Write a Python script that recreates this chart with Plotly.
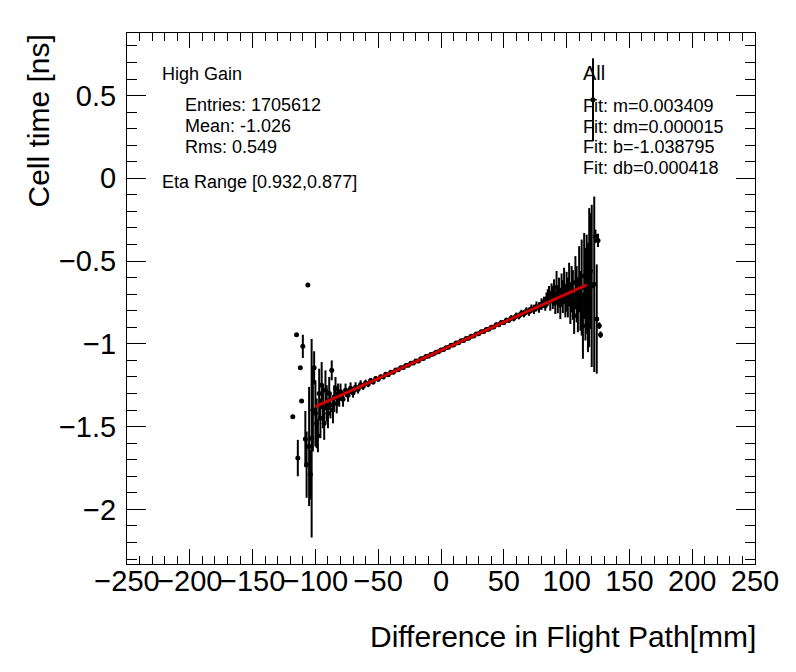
import numpy as np
import plotly.graph_objects as go

# profile bins: x centre [mm], mean cell time [ns], error on mean [ns]
bin_x = [
    -118, -115, -114, -112, -111, -110, -108, -107, -106, -105,
    -104, -103, -102, -101, -100, -99, -98,
    -97, -96, -95, -94, -93, -92, -91, -90, -89, -88,
    -87, -86, -85, -84, -83, -82, -81,
    -80, -78, -76, -74, -72, -70, -68, -66, -64, -62,
    -60, -58, -56, -54, -52, -50, -48, -46, -44, -42,
    -40, -38, -36, -34, -32, -30, -28, -26, -24, -22,
    -20, -18, -16, -14, -12, -10, -8, -6, -4, -2,
    0, 2, 4, 6, 8, 10, 12, 14, 16, 18,
    20, 22, 24, 26, 28, 30, 32, 34, 36, 38,
    40, 42, 44, 46, 48, 50, 52, 54, 56, 58,
    60, 62, 64, 66, 68, 70, 72, 74, 76, 78, 80,
    81, 82, 83, 84, 85, 86, 87, 88, 89, 90,
    91, 92, 93, 94, 95, 96, 97, 98, 99, 100,
    101, 102, 103, 104, 105, 106, 107, 108, 109, 110,
    111, 112, 113, 114, 115, 116, 117, 118, 119, 120,
    121, 122, 123, 124, 125, 126, 127,
]
bin_mean = [
    -1.440, -0.945, -1.690, -1.145, -1.345, -1.015, -1.575, -1.730, -0.645, -1.620,
    -1.790, -1.570, -1.400, -1.145, -1.420, -1.480, -1.555,
    -1.300, -1.450, -1.250, -1.380, -1.480, -1.280, -1.360, -1.420, -1.300, -1.370,
    -1.160, -1.400, -1.320, -1.270, -1.360, -1.300, -1.330,
    -1.290, -1.335, -1.280, -1.310, -1.268, -1.295, -1.262, -1.275, -1.245, -1.258,
    -1.236, -1.244, -1.222, -1.230, -1.210, -1.214, -1.198, -1.200, -1.184, -1.186,
    -1.171, -1.172, -1.158, -1.157, -1.145, -1.143, -1.131, -1.130, -1.117, -1.116,
    -1.104, -1.103, -1.090, -1.089, -1.077, -1.075, -1.064, -1.061, -1.050, -1.047,
    -1.037, -1.034, -1.023, -1.020, -1.009, -1.007, -0.995, -0.994, -0.981, -0.980,
    -0.968, -0.966, -0.954, -0.953, -0.940, -0.939, -0.927, -0.925, -0.913, -0.912,
    -0.899, -0.898, -0.885, -0.885, -0.871, -0.872, -0.857, -0.858, -0.844, -0.846,
    -0.830, -0.832, -0.815, -0.818, -0.802, -0.806, -0.788, -0.792, -0.774, -0.780, -0.760,
    -0.760, -0.745, -0.770, -0.730, -0.720, -0.700, -0.740, -0.695, -0.720, -0.690,
    -0.750, -0.660, -0.735, -0.690, -0.760, -0.675, -0.715, -0.650, -0.740, -0.685,
    -0.720, -0.640, -0.760, -0.670, -0.705, -0.830, -0.630, -0.700, -0.770, -0.610,
    -0.740, -0.660, -0.890, -0.590, -0.700, -0.640, -0.720, -0.600, -0.560, -0.650,
    0.475, -0.640, -0.350, -0.850, -0.375, -0.890, -0.945,
]
bin_err = [
    0.005, 0.005, 0.110, 0.005, 0.005, 0.070, 0.170, 0.200, 0.005, 0.360,
    0.150, 0.600, 0.250, 0.100, 0.200, 0.150, 0.100,
    0.150, 0.120, 0.140, 0.130, 0.100, 0.120, 0.110, 0.090, 0.100, 0.080,
    0.060, 0.080, 0.070, 0.070, 0.060, 0.060, 0.050,
    0.050, 0.045, 0.040, 0.040, 0.035, 0.030, 0.030, 0.025, 0.025, 0.020,
    0.020, 0.018, 0.016, 0.015, 0.014, 0.013, 0.012, 0.011, 0.011, 0.010,
    0.010, 0.009, 0.009, 0.009, 0.008, 0.008, 0.008, 0.008, 0.007, 0.007,
    0.007, 0.007, 0.007, 0.007, 0.007, 0.007, 0.007, 0.007, 0.007, 0.007,
    0.007, 0.007, 0.007, 0.007, 0.007, 0.007, 0.007, 0.008, 0.008, 0.008,
    0.008, 0.008, 0.009, 0.009, 0.009, 0.010, 0.010, 0.010, 0.011, 0.011,
    0.012, 0.012, 0.013, 0.013, 0.014, 0.014, 0.015, 0.016, 0.017, 0.018,
    0.019, 0.020, 0.021, 0.022, 0.023, 0.025, 0.026, 0.028, 0.030, 0.032, 0.035,
    0.025, 0.030, 0.030, 0.040, 0.050, 0.050, 0.060, 0.060, 0.070, 0.080,
    0.070, 0.100, 0.080, 0.090, 0.090, 0.100, 0.100, 0.110, 0.100, 0.120,
    0.120, 0.130, 0.120, 0.140, 0.150, 0.110, 0.160, 0.170, 0.160, 0.200,
    0.180, 0.290, 0.200, 0.260, 0.280, 0.300, 0.330, 0.420, 0.350, 0.490,
    0.250, 0.530, 0.040, 0.330, 0.040, 0.020, 0.020,
]

# linear fit result
fit_m = 0.003409
fit_b = -1.038795
fit_range = [-100, 116]

stats_lines = ["Entries: 1705612", "Mean: -1.026", "Rms: 0.549"]
fit_lines = ["Fit: m=0.003409", "Fit: dm=0.000015", "Fit: b=-1.038795", "Fit: db=0.000418"]

FONT = "Liberation Sans, Arial, Helvetica, sans-serif"

fig = go.Figure()
fig.add_trace(go.Scatter(
    x=bin_x, y=bin_mean, mode="markers",
    marker=dict(color="black", size=5),
    error_y=dict(type="data", array=bin_err, visible=True,
                 color="black", thickness=2, width=0),
    showlegend=False,
))

fx = np.linspace(fit_range[0], fit_range[1], 50)
fig.add_trace(go.Scatter(
    x=fx, y=fit_m * fx + fit_b, mode="lines",
    line=dict(color="#d00000", width=3),
    showlegend=False,
))

axis_common = dict(
    showline=True, linecolor="black", linewidth=1, mirror="allticks",
    ticks="inside", tickcolor="black", tickwidth=1,
    showgrid=False, zeroline=False,
    tickfont=dict(family=FONT, size=29, color="black"),
)
fig.update_xaxes(range=[-250, 250], dtick=50, tick0=0, ticklen=15, tickangle=0,
                 minor=dict(ticks="inside", dtick=10, ticklen=8, tickcolor="black", showgrid=False),
                 ticklabelstandoff=-9, **axis_common)
fig.update_yaxes(range=[-2.33, 0.878], dtick=0.5, tick0=0, ticklen=19,
                 minor=dict(ticks="inside", dtick=0.1, ticklen=10, tickcolor="black", showgrid=False),
                 ticklabelstandoff=4, **axis_common)

# paper-coordinate helpers (plot area on screen: x 127..755 px, y 33..564 px)
def py(p):
    return (564 - p) / 531.0

def px(p):
    return (p - 127) / 628.0

ann = []
ann.append(dict(text="High Gain", x=px(160), y=py(74), size=18))
for i, t in enumerate(stats_lines):
    ann.append(dict(text=t, x=px(183), y=py(105 + 21 * i), size=18))
ann.append(dict(text="Eta Range [0.932,0.877]", x=px(160), y=py(182), size=18))
ann.append(dict(text="All", x=px(581), y=py(73), size=20))
for i, t in enumerate(fit_lines):
    ann.append(dict(text=t, x=px(581), y=py(106 + 20.7 * i), size=18))

for a in ann:
    fig.add_annotation(text=a["text"], x=a["x"], y=a["y"], xref="paper", yref="paper",
                       xanchor="left", yanchor="middle", showarrow=False,
                       font=dict(family=FONT, size=a["size"], color="black"))

fig.add_annotation(text="Difference in Flight Path[mm]", x=px(758), y=py(636),
                   xref="paper", yref="paper", xanchor="right", yanchor="middle",
                   showarrow=False, font=dict(family=FONT, size=30, color="black"))
fig.add_annotation(text="Cell time [ns]", x=px(38), y=1.0, textangle=-90,
                   xref="paper", yref="paper", xanchor="center", yanchor="top",
                   showarrow=False, font=dict(family=FONT, size=30, color="black"))

# the page body adds an 8 px offset, so the figure is 8 px smaller on each axis
fig.update_layout(
    width=788, height=664,
    margin=dict(l=119, r=41, t=25, b=108),
    paper_bgcolor="white", plot_bgcolor="white",
    font=dict(family=FONT, color="black"),
)

fig.write_html("out.html")
